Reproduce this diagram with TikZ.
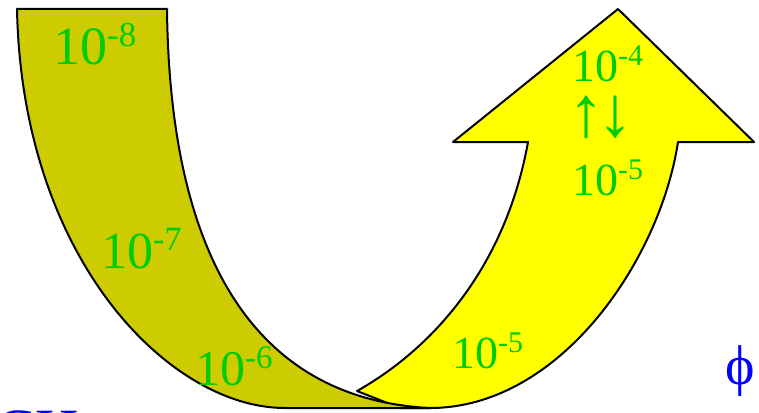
\documentclass[tikz,border=0pt]{standalone}
\usepackage{fontspec}
\setmainfont{Liberation Serif}
\definecolor{olivefill}{RGB}{204,204,0}
\definecolor{yellowfill}{RGB}{255,255,0}
\definecolor{labelgreen}{RGB}{0,204,0}
\definecolor{symblue}{RGB}{0,0,255}
\newcommand\tenpow[3]{{\fontsize{#2}{#2}\selectfont 10\raisebox{0.33em}{\fontsize{#3}{#3}\selectfont #1}}}
\tikzset{
  band/.style={draw=black, line width=2pt, line join=round},
  pw/.style={text=labelgreen, inner sep=0pt, anchor=base west},
  arr/.style={text=labelgreen, inner sep=0pt, font=\fontsize{72}{72}\selectfont},
  sym/.style={text=symblue, inner sep=0pt},
}
\begin{document}
\begin{tikzpicture}[x=1pt,y=-1pt]
\useasboundingbox (0,0) rectangle (759,412);
% yellow arrow
\path[band, fill=yellowfill] (357,391) .. controls (430,350) and (505,270) .. (528,142)
  -- (453,142) -- (618,9) -- (754,142) -- (678,142)
  .. controls (660,260) and (560,408) .. (430,408) -- (400,408) -- cycle;
% olive band
\path[band, fill=olivefill] (17,9) -- (167,9)
  .. controls (170,280) and (270,400) .. (430,408) -- (285,408)
  .. controls (170,408) and (22,260) .. (17,9) -- cycle;
% labels
\node[pw] (l8) at (53,64) {\tenpow{-8}{54}{35}};
\node[pw] (l7) at (101,268) {\tenpow{-7}{52}{34}};
\node[pw] (l6) at (195,385) {\tenpow{-6}{50}{33}};
\node[pw] (l4) at (572,81) {\tenpow{-4}{46}{30}};
\node[arr] (up) at (586,117.5) {↑};
\node[arr] (down) at (615,117.5) {↓};
\node[pw] (l5a) at (572,195) {\tenpow{-5}{46}{30}};
\node[pw] (l5b) at (452,368) {\tenpow{-5}{46}{30}};
\node[sym, font=\fontsize{56}{56}\selectfont] (phi) at (740,371) {ϕ};
\node[sym, anchor=base west, font=\fontsize{60}{60}\selectfont] (ch) at (-5,450) {CH};
\end{tikzpicture}
\end{document}
